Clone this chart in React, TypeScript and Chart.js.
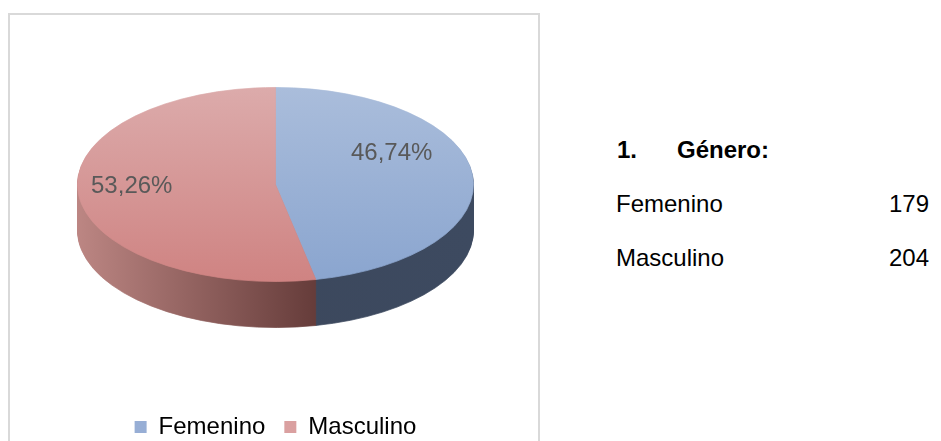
import React, { useEffect, useRef } from 'react';
import { Chart, registerables } from 'chart.js';

Chart.register(...registerables);

// ---- data ----
const categories = ['Femenino', 'Masculino'];
const counts = [179, 204];
const headingNumber = '1.';
const headingText = 'Género:';

// ---- styling ----
const FONT = "'Liberation Sans', Arial, Helvetica, sans-serif";
const topFaceStops = [
  ['#aabddb', '#8aa5cf'],
  ['#dcabab', '#cf8382'],
];
const sideStops: [number, string][][] = [
  [[0, '#3b465a'], [1, '#3d4a60']],
  [[0, '#bc8683'], [0.62, '#633a38'], [1, '#633a38']],
];
const legendColors = ['#97aed5', '#daa0a0'];
const PIE_RADIUS = 198;

const total = counts.reduce((a, b) => a + b, 0);
const percentLabels = counts.map((v) => ((v / total) * 100).toFixed(2).replace('.', ',') + '%');

function topGradient(c: any) {
  const chart = c.chart;
  const area = chart.chartArea;
  const i = c.dataIndex ?? 0;
  if (!area) return topFaceStops[i][1];
  const cy = (area.top + area.bottom) / 2;
  const g = chart.ctx.createLinearGradient(0, cy - PIE_RADIUS, 0, cy + PIE_RADIUS);
  g.addColorStop(0, topFaceStops[i][0]);
  g.addColorStop(1, topFaceStops[i][1]);
  return g;
}

const pie3d = {
  id: 'pie3d',
  beforeDatasetsDraw(chart: any, _args: any, opts: any) {
    const meta = chart.getDatasetMeta(0);
    const arcs = meta.data as any[];
    chart.$pie3dActive = false;
    if (!arcs || !arcs.length) return;
    const { x: cx, y: cy, outerRadius: r } = arcs[0];
    const s = opts.tilt;
    const ctx = chart.ctx as CanvasRenderingContext2D;
    const grads = arcs.map((_a, i) => {
      const g = ctx.createLinearGradient(cx - r, 0, cx + r, 0);
      sideStops[i].forEach(([p, col]) => g.addColorStop(p, col));
      return g;
    });
    for (let k = opts.depth; k >= 1; k--) {
      ctx.save();
      ctx.translate(cx, cy + k);
      ctx.scale(1, s);
      ctx.translate(-cx, -cy);
      arcs.forEach((arc, i) => {
        const saved = arc.options;
        arc.options = { ...saved, backgroundColor: grads[i], borderColor: grads[i], borderWidth: 1 };
        arc.draw(ctx);
        arc.options = saved;
      });
      ctx.restore();
    }
    ctx.save();
    ctx.translate(cx, cy);
    ctx.scale(1, s);
    ctx.translate(-cx, -cy);
    chart.$pie3dActive = true;
  },
  afterDatasetsDraw(chart: any, _args: any, opts: any) {
    if (!chart.$pie3dActive) return;
    const ctx = chart.ctx as CanvasRenderingContext2D;
    ctx.restore();
    chart.$pie3dActive = false;
    const arcs = chart.getDatasetMeta(0).data as any[];
    const s = opts.tilt;
    ctx.save();
    ctx.font = `24px ${FONT}`;
    ctx.fillStyle = '#595959';
    ctx.textAlign = 'center';
    ctx.textBaseline = 'middle';
    arcs.forEach((arc, i) => {
      const { x: cx, y: cy, outerRadius: r, startAngle, endAngle } = arc;
      const mid = (startAngle + endAngle) / 2;
      const f = opts.labelRadius[i];
      const x = cx + Math.cos(mid) * r * f;
      const y = cy + Math.sin(mid) * r * f * s + opts.labelShiftY[i];
      ctx.fillText(percentLabels[i], x, y);
    });
    ctx.restore();
  },
};

export default function App() {
  const ref = useRef<HTMLCanvasElement | null>(null);

  useEffect(() => {
    if (!ref.current) return;
    const chart = new Chart(ref.current, {
      type: 'pie',
      data: {
        labels: categories,
        datasets: [
          {
            data: counts,
            backgroundColor: topGradient as any,
            borderColor: topGradient as any,
            borderWidth: 1,
            radius: PIE_RADIUS,
            clip: false as any,
          } as any,
        ],
      },
      options: {
        animation: false,
        responsive: false,
        events: [],
        radius: PIE_RADIUS,
        layout: { padding: 0 },
        plugins: {
          tooltip: { enabled: false },
          legend: {
            position: 'bottom',
            labels: {
              boxWidth: 12,
              boxHeight: 12,
              padding: 19,
              color: '#808080',
              font: { size: 24, family: FONT },
              generateLabels: () =>
                categories.map((c, i) => ({
                  text: c,
                  fillStyle: legendColors[i],
                  strokeStyle: legendColors[i],
                  lineWidth: 0,
                  hidden: false,
                  index: i,
                })),
            },
          },
          pie3d: {
            tilt: 0.49,
            depth: 46,
            labelRadius: [0.59, 0.73],
            labelShiftY: [-25, -5],
          },
        } as any,
      },
      plugins: [pie3d],
    });
    return () => chart.destroy();
  }, []);

  const textStyle: React.CSSProperties = {
    position: 'absolute',
    fontFamily: FONT,
    fontSize: 24,
    lineHeight: '24px',
    color: '#000',
    whiteSpace: 'nowrap',
  };
  const rowTops = [192, 246];

  return (
    <div
      style={{
        position: 'fixed',
        left: 0,
        top: 0,
        width: 941,
        height: 441,
        overflow: 'hidden',
        background: '#fff',
      }}
    >
      <div
        style={{
          position: 'absolute',
          left: 8,
          top: 13,
          width: 532,
          height: 470,
          border: '2px solid #d9d9d9',
          boxSizing: 'border-box',
        }}
      />
      <canvas
        ref={ref}
        width={531}
        height={476}
        style={{ position: 'absolute', left: 10, top: -27, width: 531, height: 476 }}
      />
      <div style={{ ...textStyle, left: 617, top: 138, fontWeight: 'bold' }}>{headingNumber}</div>
      <div style={{ ...textStyle, left: 677, top: 138, fontWeight: 'bold' }}>{headingText}</div>
      {categories.map((c, i) => (
        <React.Fragment key={c}>
          <div style={{ ...textStyle, left: 616, top: rowTops[i] }}>{c}</div>
          <div style={{ ...textStyle, left: 889, top: rowTops[i] }}>{counts[i]}</div>
        </React.Fragment>
      ))}
    </div>
  );
}
